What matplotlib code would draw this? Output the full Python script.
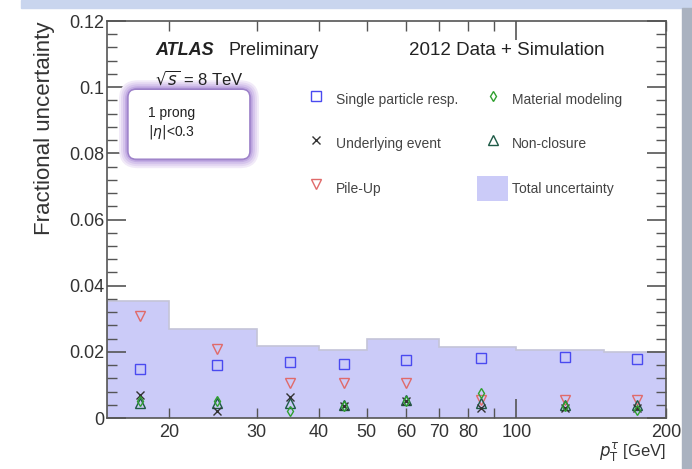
import numpy as np
import matplotlib
matplotlib.use("Agg")
import matplotlib.pyplot as plt
from matplotlib.patches import FancyBboxPatch, Rectangle, Patch
from matplotlib.lines import Line2D
from matplotlib.ticker import FixedLocator, NullFormatter, MultipleLocator, FuncFormatter

plt.rcParams['font.family'] = ['Liberation Sans', 'DejaVu Sans']

# bins and bin centres in pT [GeV]
bin_edges = [15, 20, 30, 40, 50, 70, 100, 150, 200]
pt_centres = [17.5, 25, 35, 45, 60, 85, 125, 175]

total_unc = [0.0354, 0.0269, 0.0218, 0.0206, 0.0238, 0.0214, 0.0206, 0.0200]
single_particle = [0.0148, 0.0159, 0.0170, 0.0164, 0.0176, 0.0182, 0.0184, 0.0179]
pile_up = [0.0308, 0.0208, 0.0105, 0.0105, 0.0107, 0.0055, 0.0055, 0.0055]
underlying_event = [0.0070, 0.0022, 0.0065, 0.0036, 0.0050, 0.0030, 0.0030, 0.0030]
material = [0.0050, 0.0050, 0.0020, 0.0035, 0.0050, 0.0075, 0.0035, 0.0025]
non_closure = [0.0045, 0.0045, 0.0045, 0.0038, 0.0055, 0.0045, 0.0040, 0.0040]

xtick_vals = [20, 30, 40, 50, 60, 70, 80, 100, 200]
xtick_labels = ['20', '30', '40', '50', '60', '70', '80', '100', '200']

fig = plt.figure(figsize=(6.92, 4.69), dpi=100)

# frame decoration from the screenshot
fig.patches.append(Rectangle((0.03, 0.983), 0.97, 0.017, transform=fig.transFigure,
                             color='#c9d5ee', zorder=0))
fig.patches.append(Rectangle((0.985, 0.0), 0.015, 0.983, transform=fig.transFigure,
                             color='#aab2c0', zorder=0))

ax = fig.add_axes([0.1546, 0.1087, 0.8078, 0.8465])
ax.set_xscale('log')
ax.set_xlim(15, 200)
ax.set_ylim(0, 0.12)

# total uncertainty band
ax.stairs(total_unc, bin_edges, fill=True, color='#cbcbf8', zorder=1)
ax.stairs(total_unc, bin_edges, fill=False, color='#c4c4d8', lw=1.2, zorder=1)

ms = 7
ax.plot(pt_centres, single_particle, 's', mfc='none', mec='#4a4af0', ms=ms, mew=1.0, zorder=3)
ax.plot(pt_centres, pile_up, 'v', mfc='none', mec='#e06a6a', ms=ms, mew=1.0, zorder=3)
ax.plot(pt_centres, non_closure, '^', mfc='none', mec='#1e5a46', ms=ms, mew=1.0, zorder=3)
ax.plot(pt_centres, underlying_event, 'x', color='#333333', ms=6, mew=1.0, zorder=3)
ax.plot(pt_centres, material, 'd', mfc='none', mec='#2fa02f', ms=5, mew=1.0, zorder=3)

# ticks
ax.xaxis.set_major_locator(FixedLocator([100]))
ax.xaxis.set_minor_locator(FixedLocator([20, 30, 40, 50, 60, 70, 80, 90, 200]))
ax.xaxis.set_major_formatter(NullFormatter())
ax.xaxis.set_minor_formatter(NullFormatter())
ax.yaxis.set_major_locator(MultipleLocator(0.02))
ax.yaxis.set_minor_locator(MultipleLocator(0.004))
ax.yaxis.set_major_formatter(FuncFormatter(lambda v, p: '%g' % round(v, 3)))
ax.tick_params(which='both', direction='in', top=True, right=True, colors='#555555',
               labelcolor='#333333', labelsize=13, pad=2)
ax.tick_params(which='major', length=14, width=1.2)
ax.tick_params(which='minor', length=7, width=1.0)
for x, lab in zip(xtick_vals, xtick_labels):
    ax.text(x, -0.0045, lab, ha='center', va='center', fontsize=13, color='#333333')
for sp in ax.spines.values():
    sp.set_color('#555555')
    sp.set_linewidth(1.2)

ax.set_ylabel('Fractional uncertainty', loc='top', fontsize=16, color='#333333', labelpad=10)
ax.text(1.0, -0.085, r'$p_{\mathrm{T}}^{\tau}$ [GeV]', transform=ax.transAxes,
        ha='right', va='center', fontsize=12, color='#333333')

# labels
ax.text(0.086, 0.925, 'ATLAS', transform=ax.transAxes, fontsize=13,
        fontweight='bold', fontstyle='italic', color='#222222', va='center')
ax.text(0.217, 0.925, 'Preliminary', transform=ax.transAxes, fontsize=13,
        color='#222222', va='center')
ax.text(0.54, 0.925, '2012 Data + Simulation', transform=ax.transAxes, fontsize=13.5,
        color='#222222', va='center')
ax.text(0.086, 0.855, r'$\sqrt{s}$ = 8 TeV', transform=ax.transAxes, fontsize=12,
        color='#222222', va='center', zorder=6)

# glowing box with selection (sizes in pixels converted to axes fractions)
px_x, px_y = 1 / 559.0, 1 / 397.0
bx0, by0, bw, bh = 0.0376, 0.652, 0.218, 0.176
glow = [(9, '#f1eaf8'), (7, '#e4d8f2'), (5, '#d5c4ec'), (3, '#c3ade3'), (1.5, '#ae94d6')]
for pad, col in glow:
    ax.add_patch(FancyBboxPatch((bx0 - pad * px_x, by0 - pad * px_y),
                                bw + 2 * pad * px_x, bh + 2 * pad * px_y,
                                boxstyle='round,pad=0,rounding_size=%f' % ((10 + pad) * px_x),
                                mutation_aspect=559 / 397.0, transform=ax.transAxes,
                                fc=col, ec='none', zorder=4))
ax.add_patch(FancyBboxPatch((bx0, by0), bw, bh,
                            boxstyle='round,pad=0,rounding_size=%f' % (8 * px_x),
                            mutation_aspect=559 / 397.0, transform=ax.transAxes,
                            fc='white', ec='#9c80c8', lw=1.0, zorder=4))
ax.text(0.074, 0.768, '1 prong', transform=ax.transAxes, fontsize=10, color='#222222',
        va='center', zorder=5)
ax.text(0.074, 0.720, r'$|\eta|$<0.3', transform=ax.transAxes, fontsize=10, color='#222222',
        va='center', zorder=5)

handles = [
    Line2D([], [], ls='none', marker='s', mfc='none', mec='#4a4af0', ms=7),
    Line2D([], [], ls='none', marker='x', color='#333333', ms=6),
    Line2D([], [], ls='none', marker='v', mfc='none', mec='#e06a6a', ms=7),
    Line2D([], [], ls='none', marker='d', mfc='none', mec='#2fa02f', ms=5),
    Line2D([], [], ls='none', marker='^', mfc='none', mec='#1e5a46', ms=7),
    Patch(facecolor='#cbcbf8', edgecolor='none'),
]
labels = ['Single particle resp.', 'Underlying event', 'Pile-Up',
          'Material modeling', 'Non-closure', 'Total uncertainty']
ax.legend(handles, labels, ncol=2, loc='upper left', bbox_to_anchor=(0.347, 0.8325),
          frameon=False, fontsize=10, labelspacing=1.37, columnspacing=1.4,
          handlelength=2.2, handleheight=2.4, handletextpad=0.3,
          borderpad=0, borderaxespad=0, labelcolor='#444444')

fig.savefig('out.png', dpi=100)
